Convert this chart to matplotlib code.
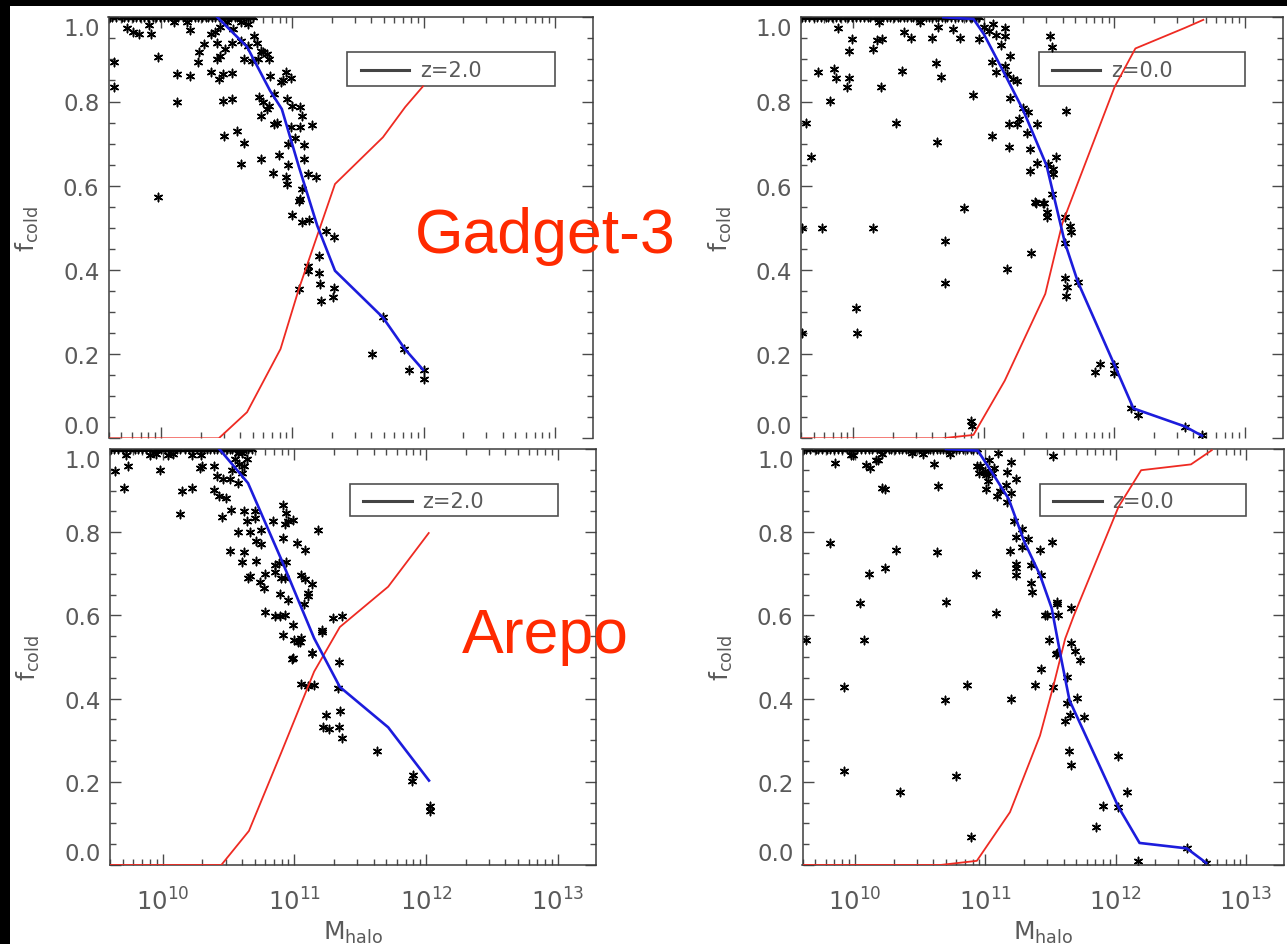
import numpy as np
import matplotlib
matplotlib.use("Agg")
import matplotlib.pyplot as plt
from matplotlib.patches import Rectangle
from matplotlib.lines import Line2D
from matplotlib.ticker import LogLocator, MultipleLocator, NullFormatter

plt.rcParams['font.family'] = ['DejaVu Sans']

# ---------------------------------------------------------------- data
# halo masses are given as log10(M_halo)

# Gadget-3, z = 2
g2_top_logm = [9.61, 9.63, 9.66, 9.70, 9.72, 9.75, 9.79, 9.81, 9.84, 9.87, 9.90, 9.94,
               9.96, 9.99, 10.02, 10.05, 10.08, 10.11, 10.13, 10.17, 10.20, 10.23, 10.26,
               10.28, 10.31, 10.34, 10.36, 10.39, 10.41, 10.44, 10.46, 10.49, 10.51, 10.53,
               10.56, 10.58, 10.60, 10.63, 10.65, 10.68, 10.70]
g2_logm = [9.74, 9.79, 9.83, 9.92, 9.91, 9.64, 9.64, 9.98, 10.12, 10.22, 10.12, 10.22, 9.98,
           10.29, 10.28, 10.33, 10.38, 10.44, 10.47, 10.54, 10.43, 10.45, 10.47, 10.54, 10.48,
           10.58, 10.63, 10.61, 10.76, 10.85, 10.90, 10.97, 10.95, 10.96, 11.09, 11.09, 11.12,
           11.18, 11.06, 11.07, 11.00, 11.07, 11.13,
           10.75, 10.78, 10.82, 10.86, 10.91, 10.93, 10.95, 10.99, 10.96, 11.00, 11.06, 11.07,
           10.88, 10.86, 10.99, 11.06, 11.15, 11.02, 10.97, 10.76, 10.81,
           10.41, 10.43, 10.49, 10.54, 10.61, 10.66, 10.71, 10.73, 10.76, 10.78, 10.63, 10.69,
           10.74, 10.82, 10.81, 10.83, 10.55, 10.61, 10.66, 10.50, 10.45, 10.38, 10.20, 10.10,
           11.05, 11.26, 11.32, 11.20, 11.12, 11.12, 11.20, 11.21, 11.32, 11.31, 11.22, 11.05,
           11.61, 11.85, 11.89, 12.00, 12.00, 11.69]
g2_f = [0.974, 0.966, 0.960, 0.960, 0.982, 0.895, 0.834, 0.905, 0.865, 0.861, 0.800, 0.971, 0.572,
        0.918, 0.895, 0.937, 0.871, 0.853, 0.865, 0.868, 0.901, 0.909, 0.802, 0.806, 0.719,
        0.729, 0.701, 0.652, 0.663, 0.630, 0.673, 0.648, 0.620, 0.604, 0.697, 0.663, 0.628,
        0.620, 0.568, 0.592, 0.530, 0.513, 0.519,
        0.810, 0.798, 0.790, 0.818, 0.846, 0.850, 0.869, 0.857, 0.806, 0.790, 0.786, 0.765,
        0.750, 0.747, 0.739, 0.739, 0.743, 0.713, 0.699, 0.766, 0.782,
        0.964, 0.940, 0.925, 0.940, 0.944, 0.933, 0.956, 0.940, 0.921, 0.917, 0.901, 0.897,
        0.901, 0.901, 0.913, 0.861, 0.972, 0.988, 0.984, 0.988, 0.976, 0.960, 0.988, 0.990,
        0.564, 0.493, 0.477, 0.434, 0.410, 0.398, 0.393, 0.366, 0.358, 0.335, 0.327, 0.355,
        0.200, 0.211, 0.163, 0.163, 0.141, 0.287]
g2_cold_logm = [10.43, 10.655, 10.83, 10.92, 11.05, 11.19, 11.325, 11.69, 11.86, 11.995]
g2_cold = [1.0, 0.93, 0.826, 0.782, 0.645, 0.505, 0.398, 0.287, 0.211, 0.163]
g2_hot_logm = [9.60, 10.44, 10.655, 10.91, 11.05, 11.325, 11.69, 11.86, 11.995]
g2_hot = [0.0, 0.0, 0.062, 0.212, 0.355, 0.604, 0.715, 0.787, 0.836]

# Gadget-3, z = 0
g0_top_logm = [9.61, 9.63, 9.66, 9.70, 9.72, 9.75, 9.79, 9.81, 9.84, 9.87, 9.90, 9.94,
               9.96, 9.99, 10.02, 10.05, 10.08, 10.11, 10.13, 10.17, 10.20, 10.23, 10.26,
               10.28, 10.31, 10.34, 10.36, 10.39, 10.41, 10.44, 10.46, 10.49, 10.51, 10.53,
               10.56, 10.58, 10.60, 10.63, 10.65, 10.68, 10.70, 10.72, 10.75, 10.78, 10.80,
               10.83, 10.86, 10.89, 10.91, 10.94, 10.96]
g0_logm = [9.88, 9.99, 9.97, 10.15, 10.18, 10.22, 10.20, 9.73, 9.85, 9.87, 9.97, 9.95, 10.21,
           9.82, 9.64, 9.68, 10.33, 10.39, 10.44, 10.37, 10.51, 10.60, 10.65, 10.76, 10.82,
           10.63, 10.67, 10.64, 10.92, 10.85, 10.96, 11.00, 11.04, 11.07, 11.09, 11.13, 11.16,
           11.16, 11.20, 11.06, 11.09, 11.16, 11.18, 11.22, 11.25, 11.20, 11.30, 11.34, 11.27,
           11.25, 11.19, 11.41, 11.33, 11.06, 11.19, 11.35, 11.41, 11.49, 11.55, 11.35, 11.53,
           11.53, 11.52, 11.39, 11.46, 11.48, 11.48, 11.51, 11.52, 11.63, 11.66,
           10.70, 10.70, 11.36, 11.18, 11.40, 11.45, 11.62, 11.67, 11.62, 11.62, 11.64, 11.63,
           11.72, 11.89, 11.85, 12.00, 12.00, 12.13, 12.18, 12.54, 12.67, 10.90, 10.91,
           9.61, 9.76, 10.15, 10.02, 10.03, 9.61]
g0_f = [0.974, 0.948, 0.921, 0.925, 0.947, 0.948, 0.988, 0.869, 0.877, 0.857, 0.857, 0.834, 0.834,
        0.802, 0.750, 0.667, 0.750, 0.966, 0.952, 0.873, 0.988, 0.952, 0.976, 0.972, 0.952,
        0.891, 0.859, 0.703, 0.815, 0.546, 0.948, 0.976, 0.968, 0.984, 0.958, 0.934, 0.974,
        0.956, 0.909, 0.893, 0.869, 0.885, 0.865, 0.853, 0.849, 0.808, 0.784, 0.776, 0.758,
        0.746, 0.746, 0.746, 0.725, 0.717, 0.691, 0.687, 0.654, 0.652, 0.667, 0.636, 0.640,
        0.628, 0.580, 0.562, 0.559, 0.537, 0.525, 0.955, 0.929, 0.778, 0.505,
        0.469, 0.370, 0.440, 0.402, 0.560, 0.559, 0.525, 0.489, 0.465, 0.380, 0.359, 0.339,
        0.371, 0.176, 0.158, 0.174, 0.155, 0.071, 0.055, 0.028, 0.008, 0.040, 0.030,
        0.499, 0.499, 0.499, 0.309, 0.249, 0.249]
g0_cold_logm = [10.69, 10.92, 11.00, 11.16, 11.30, 11.48, 11.62, 11.72, 12.00, 12.145, 12.54, 12.67]
g0_cold = [1.0, 0.996, 0.96, 0.865, 0.78, 0.648, 0.465, 0.371, 0.174, 0.071, 0.028, 0.006]
g0_hot_logm = [9.60, 10.68, 10.92, 11.16, 11.30, 11.47, 11.60, 12.00, 12.16, 12.54, 12.68]
g0_hot = [0.0, 0.0, 0.008, 0.137, 0.23, 0.343, 0.51, 0.834, 0.926, 0.975, 0.994]

# Arepo, z = 2
a2_top_logm = [9.61, 9.63, 9.66, 9.70, 9.72, 9.75, 9.79, 9.81, 9.84, 9.87, 9.90, 9.94,
               9.96, 9.99, 10.02, 10.05, 10.08, 10.11, 10.13, 10.17, 10.20, 10.23, 10.26,
               10.28, 10.31, 10.34, 10.36, 10.39, 10.41, 10.44, 10.46, 10.49, 10.51, 10.53,
               10.56, 10.58, 10.60, 10.63, 10.65, 10.68]
a2_logm = [9.64, 9.74, 9.71, 9.72, 9.90, 9.95, 10.04, 10.08, 10.22, 10.29, 9.98, 10.15, 10.22,
           10.13, 10.28, 10.30, 10.39, 10.39, 10.43, 10.48, 10.45, 10.52, 10.41, 10.46, 10.51,
           10.57, 10.53, 10.60, 10.62, 10.70, 10.64, 10.70, 10.57, 10.66, 10.71, 10.75, 10.75,
           10.84, 10.91, 10.94, 10.95, 10.99, 10.93, 10.91, 11.02, 11.08, 11.18, 10.51, 10.62,
           10.60, 10.71, 10.65, 10.66, 10.74, 10.77, 10.78, 10.85, 10.88, 10.94, 10.85, 10.90,
           10.93, 10.89, 10.95, 11.05, 11.08, 11.10, 11.10, 11.13, 11.07, 10.78, 10.85, 10.89,
           10.93, 10.99, 10.91, 11.00, 11.04, 11.05, 11.13, 11.21, 11.21, 11.29, 11.36, 10.99,
           11.34, 10.55, 10.58, 10.60, 10.62, 10.64, 10.57,
           11.03, 10.98, 11.13, 11.05, 11.10, 11.15, 11.33, 11.24, 11.35, 11.22, 11.26, 11.34,
           11.36, 11.63, 11.89, 11.90, 12.03, 12.03]
a2_f = [0.947, 0.958, 0.907, 0.985, 0.985, 0.987, 0.985, 0.987, 0.985, 0.985, 0.950, 0.898, 0.907,
        0.843, 0.954, 0.960, 0.958, 0.902, 0.888, 0.882, 0.837, 0.854, 0.934, 0.928, 0.928,
        0.918, 0.950, 0.942, 0.850, 0.850, 0.826, 0.835, 0.800, 0.800, 0.779, 0.771, 0.805,
        0.826, 0.866, 0.845, 0.827, 0.830, 0.819, 0.785, 0.773, 0.757, 0.805, 0.755, 0.752,
        0.728, 0.731, 0.691, 0.695, 0.681, 0.665, 0.699, 0.721, 0.725, 0.728, 0.705, 0.689,
        0.689, 0.651, 0.637, 0.697, 0.687, 0.653, 0.647, 0.675, 0.627, 0.607, 0.599, 0.599,
        0.601, 0.578, 0.553, 0.541, 0.537, 0.545, 0.509, 0.565, 0.559, 0.594, 0.599, 0.498,
        0.488, 0.975, 0.965, 0.990, 0.960, 0.975, 0.990,
        0.536, 0.496, 0.510, 0.436, 0.430, 0.432, 0.425, 0.361, 0.369, 0.331, 0.326, 0.331,
        0.305, 0.273, 0.203, 0.217, 0.143, 0.131]
a2_cold_logm = [10.43, 10.648, 10.90, 11.15, 11.345, 11.712, 12.022]
a2_cold = [1.0, 0.918, 0.735, 0.545, 0.428, 0.331, 0.203]
a2_hot_logm = [9.60, 10.445, 10.655, 10.90, 11.15, 11.345, 11.712, 12.02]
a2_hot = [0.0, 0.0, 0.082, 0.27, 0.465, 0.572, 0.669, 0.798]

# Arepo, z = 0
a0_top_logm = [9.61, 9.63, 9.66, 9.70, 9.72, 9.75, 9.79, 9.81, 9.84, 9.87, 9.90, 9.94,
               9.96, 9.99, 10.02, 10.05, 10.08, 10.11, 10.13, 10.17, 10.20, 10.23, 10.26,
               10.28, 10.31, 10.34, 10.36, 10.39, 10.41, 10.44, 10.46, 10.49, 10.51, 10.53,
               10.56, 10.58, 10.60, 10.63, 10.65, 10.68, 10.70, 10.72, 10.75, 10.78, 10.80,
               10.83, 10.86, 10.89, 10.91, 10.94]
a0_logm = [9.85, 9.97, 10.21, 10.09, 10.12, 10.16, 10.21, 10.44, 10.52, 10.61, 10.64, 10.73,
           9.81, 9.63, 10.07, 10.04, 10.11, 10.23, 10.32, 10.63, 10.70, 10.93, 11.08, 10.94,
           10.95, 10.96, 11.00, 11.01, 11.02, 11.03, 11.05, 11.07, 11.01, 11.10, 11.11, 11.09,
           11.17, 11.20, 11.24, 11.16, 11.20, 11.17, 11.22, 11.24, 11.28, 11.33, 11.19, 11.28,
           11.42, 11.24, 11.24, 11.24, 11.35, 11.35, 11.36, 11.43, 11.51, 11.52, 11.55, 11.55,
           11.46, 11.47, 11.56, 11.49, 11.55, 11.66, 11.66, 11.69, 11.73,
           10.69, 10.86, 10.78, 10.89, 11.20, 11.38, 11.43, 11.54, 11.52, 11.63, 11.63, 11.65,
           11.61, 11.70, 11.76, 11.64, 11.66, 12.02, 12.09, 11.90, 12.02, 11.85, 12.17, 12.55,
           12.69, 9.92, 9.92, 10.23, 10.35, 9.99, 10.18]
a0_f = [0.966, 0.986, 0.988, 0.962, 0.954, 0.974, 0.906, 0.990, 0.988, 0.963, 0.912, 0.988,
        0.773, 0.541, 0.542, 0.630, 0.700, 0.713, 0.757, 0.753, 0.633, 0.700, 0.605, 0.958,
        0.942, 0.960, 0.946, 0.938, 0.923, 0.974, 0.942, 0.954, 0.904, 0.990, 0.898, 0.888,
        0.944, 0.968, 0.928, 0.914, 0.894, 0.872, 0.827, 0.789, 0.808, 0.784, 0.755, 0.765,
        0.757, 0.723, 0.715, 0.697, 0.721, 0.679, 0.657, 0.697, 0.777, 0.983, 0.633, 0.627,
        0.602, 0.601, 0.601, 0.541, 0.509, 0.618, 0.534, 0.514, 0.493,
        0.397, 0.433, 0.213, 0.067, 0.400, 0.432, 0.470, 0.508, 0.428, 0.452, 0.390, 0.361,
        0.345, 0.401, 0.355, 0.275, 0.241, 0.263, 0.175, 0.141, 0.139, 0.091, 0.010, 0.040,
        0.005, 0.428, 0.226, 0.905, 0.176, 0.985, 0.973]
a0_cold_logm = [10.70, 10.944, 11.08, 11.18, 11.30, 11.42, 11.51, 11.58, 11.646, 12.022,
                12.183, 12.545, 12.694]
a0_cold = [1.0, 0.996, 0.93, 0.88, 0.777, 0.697, 0.617, 0.50, 0.396, 0.139, 0.053, 0.040, 0.005]
a0_hot_logm = [9.60, 10.655, 10.936, 11.19, 11.42, 11.524, 11.613, 11.68, 12.022, 12.195,
               12.577, 12.736]
a0_hot = [0.0, 0.0, 0.010, 0.127, 0.311, 0.432, 0.544, 0.600, 0.861, 0.949, 0.963, 0.997]

y_ticks = [0.0, 0.2, 0.4, 0.6, 0.8, 1.0]

# ---------------------------------------------------------------- style
W, H = 1287, 945
TICK_COL = '#4a4a4a'
LABEL_COL = '#5a5a5a'
SPINE_COL = '#3c3c3c'
COLD_COL = '#1c1cdc'
HOT_COL = '#ee2a22'
NAME_COL = '#ff2a00'
STAR = (6, 2, 0)

fig = plt.figure(figsize=(W / 100, H / 100), dpi=100, facecolor='black')
# white page with a thin black border at the top and left
fig.add_artist(Rectangle((10 / W, 0), 1 - 10 / W, 1 - 7 / H, transform=fig.transFigure,
                         facecolor='white', edgecolor='none', zorder=-10))


def add_panel(left, top, right, bottom):
    return fig.add_axes([left / W, 1 - bottom / H, (right - left) / W, (bottom - top) / H])


def draw_key(ax, label):
    ax.add_patch(Rectangle((0.493, 0.838), 0.429, 0.079, transform=ax.transAxes,
                           fill=False, edgecolor='#505050', lw=1.2, zorder=1))
    ax.add_line(Line2D([0.521, 0.621], [0.874, 0.874], transform=ax.transAxes,
                       color='#444444', lw=2.2, zorder=1))
    ax.text(0.643, 0.874, label, transform=ax.transAxes, ha='left', va='center',
            fontsize=15, color=LABEL_COL, zorder=1)


def draw_panel(ax, top_logm, logm, f, cold_logm, cold, hot_logm, hot, label, bottom_row):
    ax.set_facecolor('white')
    ax.scatter(10 ** np.array(top_logm), np.ones(len(top_logm)), marker=STAR, s=36,
               c='black', linewidths=1.1, zorder=2)
    ax.scatter(10 ** np.array(logm), f, marker=STAR, s=36, c='black', linewidths=1.1, zorder=2)
    ax.plot(10 ** np.array(hot_logm), hot, color=HOT_COL, lw=1.3, zorder=3)
    ax.plot(10 ** np.array(cold_logm), cold, color=COLD_COL, lw=1.9, zorder=4)
    draw_key(ax, label)

    ax.set_xscale('log')
    ax.set_xlim(10 ** 9.6, 10 ** 13.29)
    ax.set_ylim(0, 1.0)
    ax.xaxis.set_major_locator(LogLocator(base=10, numticks=12))
    ax.xaxis.set_minor_locator(LogLocator(base=10, subs=np.arange(2, 10), numticks=40))
    ax.xaxis.set_minor_formatter(NullFormatter())
    ax.set_yticks(y_ticks, labels=[f'{v:.1f}' for v in y_ticks])
    ax.yaxis.set_minor_locator(MultipleLocator(0.05))

    ax.tick_params(which='both', direction='in', top=True, right=True, color=TICK_COL,
                   labelcolor=LABEL_COL, labelsize=16.5, width=1.0)
    ax.tick_params(which='major', length=8)
    ax.tick_params(which='minor', length=4)
    ax.tick_params(axis='y', pad=6.5)
    ax.tick_params(axis='x', pad=16, labelbottom=bottom_row, labelsize=17.5)
    for sp in ax.spines.values():
        sp.set_color(SPINE_COL)
        sp.set_linewidth(1.1)
    if not bottom_row:
        ax.spines['bottom'].set_visible(False)

    ticks = ax.yaxis.get_major_ticks()
    ticks[0].label1.set_verticalalignment('bottom')
    ticks[-1].label1.set_verticalalignment('top')

    ax.set_ylabel(r'$\mathregular{f_{cold}}$', fontsize=18, color=LABEL_COL)
    ax.yaxis.set_label_coords(-0.14, 0.5)
    if bottom_row:
        ax.set_xlabel(r'$\mathregular{M_{halo}}$', fontsize=18, color=LABEL_COL, va='top')
        ax.xaxis.set_label_coords(0.5, -0.13)


ax_g2 = add_panel(108.5, 18.3, 593, 439.3)
ax_g0 = add_panel(801, 18.3, 1283, 439.3)
ax_a2 = add_panel(110, 450.0, 596, 866)
ax_a0 = add_panel(802.5, 450.0, 1284, 866)

draw_panel(ax_g2, g2_top_logm, g2_logm, g2_f, g2_cold_logm, g2_cold, g2_hot_logm, g2_hot,
           'z=2.0', False)
draw_panel(ax_g0, g0_top_logm, g0_logm, g0_f, g0_cold_logm, g0_cold, g0_hot_logm, g0_hot,
           'z=0.0', False)
draw_panel(ax_a2, a2_top_logm, a2_logm, a2_f, a2_cold_logm, a2_cold, a2_hot_logm, a2_hot,
           'z=2.0', True)
draw_panel(ax_a0, a0_top_logm, a0_logm, a0_f, a0_cold_logm, a0_cold, a0_hot_logm, a0_hot,
           'z=0.0', True)

fig.text(415 / W, 1 - 253 / H, 'Gadget-3', color=NAME_COL, fontsize=45,
         family=['Liberation Sans', 'DejaVu Sans'], ha='left', va='baseline', zorder=10)
fig.text(462 / W, 1 - 653 / H, 'Arepo', color=NAME_COL, fontsize=45,
         family=['Liberation Sans', 'DejaVu Sans'], ha='left', va='baseline', zorder=10)

fig.savefig('out.png', dpi=100, facecolor=fig.get_facecolor())
